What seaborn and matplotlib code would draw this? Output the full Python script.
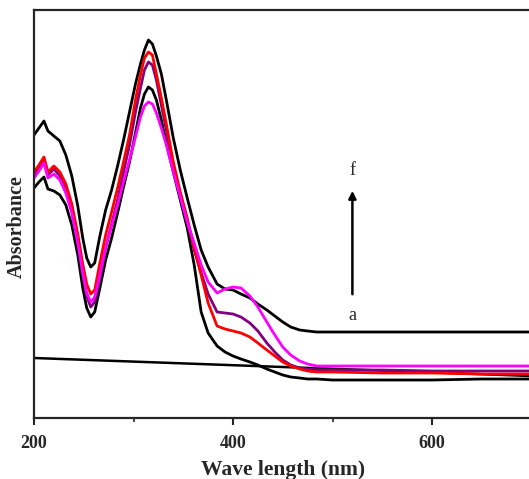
import numpy as np
import pandas as pd
import matplotlib
matplotlib.use("Agg")
import matplotlib.pyplot as plt
import seaborn as sns

# wavelengths (nm) shared by all spectra
wavelength = [200, 205, 210, 214, 220, 226, 232, 238, 244, 249, 253, 257, 261, 266, 272,
              278, 284, 290, 296, 302, 307, 311, 315, 319, 323, 328, 333, 340, 347, 354,
              361, 368, 375, 384, 392, 400, 408, 417, 425, 434, 442, 450, 458, 467, 475,
              484, 500, 550, 600, 650, 700]

# absorbance
abs_top_black = [1.415, 1.450, 1.485, 1.435, 1.410, 1.385, 1.315, 1.210, 1.060, 0.900, 0.800,
                 0.755, 0.775, 0.905, 1.040, 1.140, 1.260, 1.390, 1.530, 1.670, 1.770, 1.840,
                 1.890, 1.870, 1.810, 1.720, 1.590, 1.400, 1.240, 1.100, 0.965, 0.840, 0.755,
                 0.670, 0.645, 0.640, 0.620, 0.600, 0.570, 0.540, 0.510, 0.480, 0.455, 0.440,
                 0.435, 0.430, 0.430, 0.430, 0.430, 0.430, 0.430]
abs_red = [1.230, 1.265, 1.305, 1.230, 1.260, 1.230, 1.170, 1.070, 0.920, 0.770, 0.670,
           0.620, 0.640, 0.770, 0.915, 1.030, 1.150, 1.280, 1.415, 1.590, 1.715, 1.800,
           1.830, 1.815, 1.720, 1.600, 1.470, 1.280, 1.130, 1.000, 0.850, 0.715, 0.575,
           0.460, 0.445, 0.435, 0.425, 0.405, 0.375, 0.340, 0.310, 0.280, 0.260, 0.245,
           0.235, 0.230, 0.230, 0.225, 0.225, 0.220, 0.220]
abs_purple = [1.215, 1.250, 1.290, 1.215, 1.245, 1.210, 1.140, 1.040, 0.880, 0.720, 0.610,
              0.555, 0.580, 0.690, 0.850, 0.970, 1.090, 1.230, 1.365, 1.530, 1.650, 1.740,
              1.780, 1.765, 1.690, 1.565, 1.440, 1.260, 1.105, 0.980, 0.840, 0.725, 0.620,
              0.530, 0.525, 0.520, 0.505, 0.475, 0.435, 0.375, 0.330, 0.290, 0.265, 0.250,
              0.245, 0.240, 0.240, 0.240, 0.235, 0.235, 0.235]
abs_magenta = [1.200, 1.235, 1.275, 1.200, 1.220, 1.190, 1.125, 1.025, 0.875, 0.725, 0.625,
               0.580, 0.605, 0.710, 0.850, 0.960, 1.065, 1.180, 1.290, 1.405, 1.505, 1.560,
               1.580, 1.570, 1.525, 1.450, 1.365, 1.230, 1.105, 0.980, 0.875, 0.765, 0.680,
               0.625, 0.645, 0.655, 0.650, 0.610, 0.555, 0.480, 0.415, 0.355, 0.315, 0.285,
               0.270, 0.260, 0.260, 0.260, 0.260, 0.260, 0.260]
abs_low_black = [1.150, 1.180, 1.205, 1.145, 1.135, 1.115, 1.065, 0.965, 0.815, 0.650, 0.550,
                 0.505, 0.530, 0.645, 0.790, 0.900, 1.025, 1.155, 1.280, 1.425, 1.550, 1.620,
                 1.655, 1.640, 1.590, 1.490, 1.375, 1.230, 1.090, 0.950, 0.765, 0.530, 0.425,
                 0.360, 0.330, 0.310, 0.295, 0.280, 0.265, 0.245, 0.230, 0.215, 0.205, 0.200,
                 0.195, 0.195, 0.190, 0.190, 0.190, 0.195, 0.195]

# straight baseline trace
base_wl = [200, 700]
base_abs = [0.300, 0.210]

sns.set_style("ticks")
plt.rcParams['font.family'] = ['Liberation Serif', 'DejaVu Serif']

fig = plt.figure(figsize=(5.29, 4.79), dpi=100)
ax = fig.add_axes([34 / 529, 61 / 479, 497.5 / 529, 408 / 479])

lw = 2.0
sns.lineplot(x=base_wl, y=base_abs, color="black", lw=1.8, ax=ax)
sns.lineplot(x=wavelength, y=abs_low_black, color="black", lw=lw, ax=ax)
sns.lineplot(x=wavelength, y=abs_top_black, color="black", lw=lw, ax=ax)
sns.lineplot(x=wavelength, y=abs_purple, color="#800080", lw=lw, ax=ax)
sns.lineplot(x=wavelength, y=abs_red, color="#ff0000", lw=lw, ax=ax)
sns.lineplot(x=wavelength, y=abs_magenta, color="#ff00ff", lw=lw, ax=ax)

# arrow a -> f
ax.annotate("", xy=(520, 1.15), xytext=(520, 0.605),
            arrowprops=dict(arrowstyle="-|>", color="black", lw=1.8, mutation_scale=11))
ax.text(520, 1.235, "f", ha="center", va="center", fontsize=13)
ax.text(520, 0.515, "a", ha="center", va="center", fontsize=13)

ax.set_xlim(200, 700)
ax.set_ylim(0, 2.04)
ax.set_xticks([200, 400, 600])
ax.set_xticks([300, 500], minor=True)
ax.set_yticks([])
ax.tick_params(axis="x", which="major", direction="out", length=5, width=1.5,
               labelsize=13, pad=7)
ax.tick_params(axis="x", which="minor", direction="out", length=3, width=1.2)
for lab in ax.get_xticklabels():
    lab.set_fontweight("bold")
for sp in ax.spines.values():
    sp.set_visible(True)
    sp.set_linewidth(1.6)

ax.set_xlabel("Wave length (nm)", fontsize=15.5, fontweight="bold", labelpad=6)
ax.set_ylabel("Absorbance", fontsize=14.5, fontweight="bold")
ax.yaxis.set_label_coords(-0.014, 0.47)

fig.savefig("out.png", dpi=100)
